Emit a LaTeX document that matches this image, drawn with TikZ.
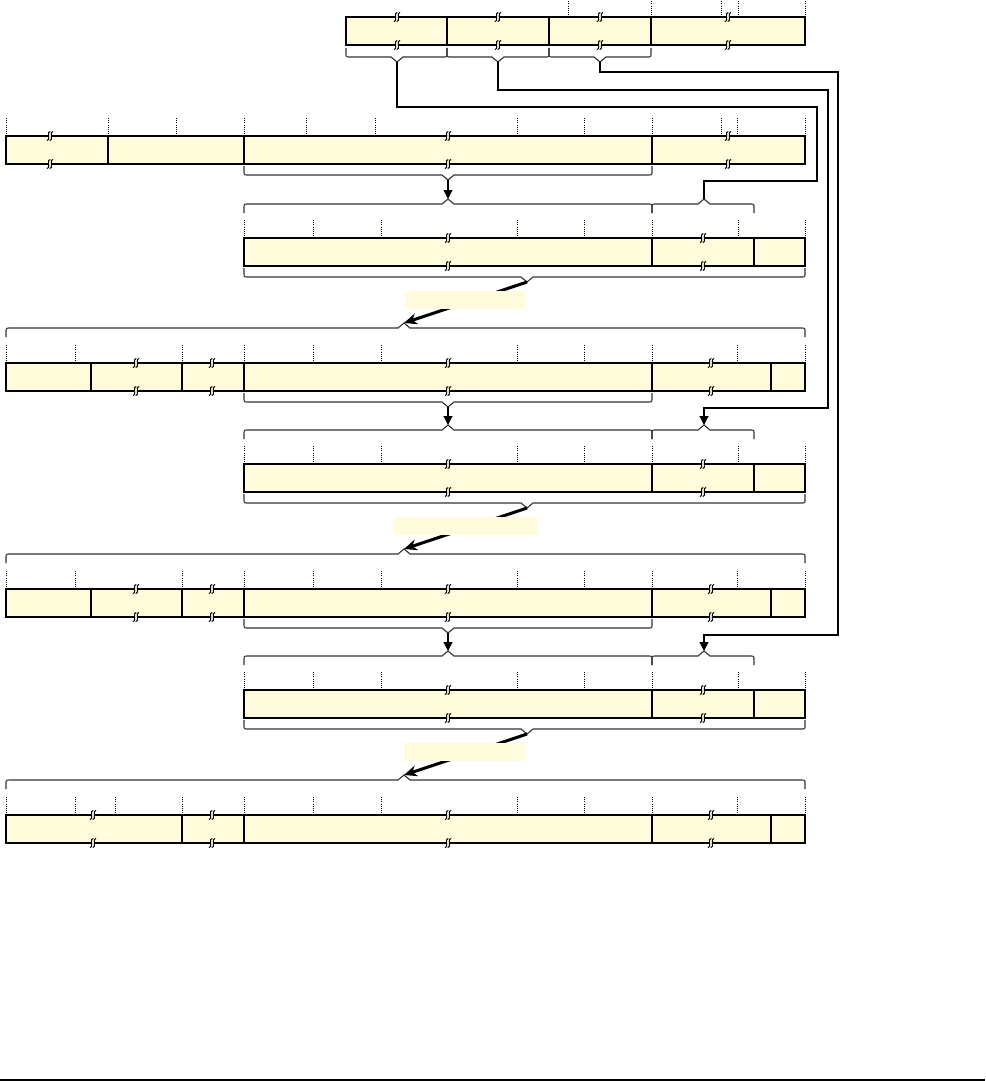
\documentclass[tikz,border=0pt]{standalone}
\usetikzlibrary{arrows.meta}
\definecolor{boxfill}{RGB}{255,251,219}
\tikzset{
 rowline/.style={line width=2pt, draw=black},
 divthick/.style={line width=2.2pt},
 divthin/.style={line width=1.2pt},
 tickline/.style={dash pattern=on 1pt off 1.2pt, line width=0.9pt},
 bracestyle/.style={line width=1.1pt, draw=black!80},
 conn/.style={line width=1.1pt},
 smallarrow/.style={line width=1.1pt, -{Triangle[length=9pt,width=9pt]}},
 bigarrow/.style={line width=3pt, -{Stealth[length=13pt,width=11pt]}},
 labelbox/.style={fill=boxfill, inner sep=0pt, minimum height=18pt},
 brkline/.style={line width=1pt},
}
\newcommand{\xrow}[3]{\fill[boxfill] (#1,#3) rectangle (#2,#3+28); \draw[rowline] (#1,#3) rectangle (#2,#3+28);}
\newcommand{\xdv}[3][divthick]{\draw[#1] (#2,#3) -- (#2,#3+28);}
\newcommand{\xticks}[2]{\foreach \tx in {#2} {\draw[tickline] (\tx,#1-18) -- (\tx,#1);}}
\newcommand{\xbrk}[2]{%
 \begin{scope}[shift={(#1,#2)}]
  \fill[boxfill] (-1.3,-1.6) rectangle (1.3,1.6);
  \draw[brkline] (0.2,-4.6) .. controls (-3.6,-5.2) and (0.8,5.2) .. (-3.0,4.6);
  \draw[brkline] (3.0,-4.6) .. controls (-0.8,-5.2) and (3.6,5.2) .. (-0.2,4.6);
 \end{scope}}
\newcommand{\xbrks}[2]{\foreach \bx in {#2} {\xbrk{\bx}{#1}\xbrk{\bx}{#1+28}}}
\newcommand{\xbrdown}[5]{%
 \draw[bracestyle] (#1,#4) -- (#1,#4+5) .. controls (#1,#4+9) .. (#1+4,#4+9) -- (#3-6,#4+9) -- (#3,#4+14) -- (#3+6,#4+9) -- (#2-4,#4+9) .. controls (#2,#4+9) .. (#2,#4+5) -- (#2,#4);
 \coordinate (#5) at (#3,#4+14);}
\newcommand{\xbrup}[5]{%
 \draw[bracestyle] (#1,#4) -- (#1,#4-5) .. controls (#1,#4-9) .. (#1+4,#4-9) -- (#3-6,#4-9) -- (#3,#4-14) -- (#3+6,#4-9) -- (#2-4,#4-9) .. controls (#2,#4-9) .. (#2,#4-5) -- (#2,#4);
 \coordinate (#5) at (#3,#4-14);}
\begin{document}
\begin{tikzpicture}[x=1pt,y=-1pt]
\useasboundingbox (0,0) rectangle (985,1081);

% ---------- Row 1
\xticks{17}{568,651,721,738,805}
\xrow{346}{805}{17}
\xdv{447}{17}\xdv{549}{17}\xdv{651}{17}
\xbrks{17}{397,498,600,728}
\xbrdown{346}{447}{397}{48}{b1a}
\xbrdown{447}{549}{498}{48}{b1b}
\xbrdown{549}{651}{600}{48}{b1c}

% ---------- Row 2
\xticks{136}{6,108,176,244,306,375,517,584,652,721,737,805}
\xrow{6}{805}{136}
\xdv{108}{136}\xdv{244}{136}\xdv{652}{136}
\xbrks{136}{50,448,728}
\xbrdown{244}{652}{448}{166}{b2}

% ---------- Three groups
\foreach \k/\dy/\lx/\lw in {0/0/465/120, 1/226/465.5/143, 2/452/464.5/121} {
  % row A
  \xticks{238+\dy}{244,313,381,517,584,652,738,805}
  \xrow{244}{805}{238+\dy}
  \xdv{652}{238+\dy}\xdv{754}{238+\dy}
  \xbrks{238+\dy}{448,703}
  \xbrup{244}{652}{448}{213+\dy}{ua\k}
  \xbrup{652}{754}{704}{213+\dy}{ub\k}
  \xbrdown{244}{805}{527}{268+\dy}{da\k}
  \xbrup{6}{805}{404}{337+\dy}{uB\k}
  \draw[bigarrow] (da\k) -- (uB\k);
  \node[labelbox, minimum width=\lw pt] (lab\k) at (\lx,300+\dy) {};
}

% ---------- Row B (k = 0, 1)
\foreach \k/\dy in {0/0, 1/226} {
  \xticks{363+\dy}{6,75,182,244,313,381,517,584,652,737,805}
  \xrow{6}{805}{363+\dy}
  \xdv{91}{363+\dy}\xdv[divthin]{182}{363+\dy}\xdv{244}{363+\dy}\xdv{652}{363+\dy}\xdv{771}{363+\dy}
  \xbrks{363+\dy}{136,212,448,711}
  \xbrdown{244}{652}{448}{393+\dy}{dB\k}
}

% ---------- Last row
\xticks{815}{6,75,115,182,244,313,381,517,584,652,737,805}
\xrow{6}{805}{815}
\xdv[divthin]{182}{815}\xdv{244}{815}\xdv{652}{815}\xdv{771}{815}
\xbrks{815}{93,212,448,711}

% ---------- Connectors
\draw[smallarrow] (b2) -- (ua0);
\draw[smallarrow] (dB0) -- (ua1);
\draw[smallarrow] (dB1) -- (ua2);
\draw[conn] (b1a) |- (817,107) |- (704,181) -- (ub0);
\draw[smallarrow] (b1b) |- (828,90) |- (704,408) -- (ub1);
\draw[smallarrow] (b1c) |- (838,72) |- (704,635) -- (ub2);

% ---------- bottom rule
\draw[line width=1.3pt] (0,1080) -- (985,1080);
\end{tikzpicture}
\end{document}
